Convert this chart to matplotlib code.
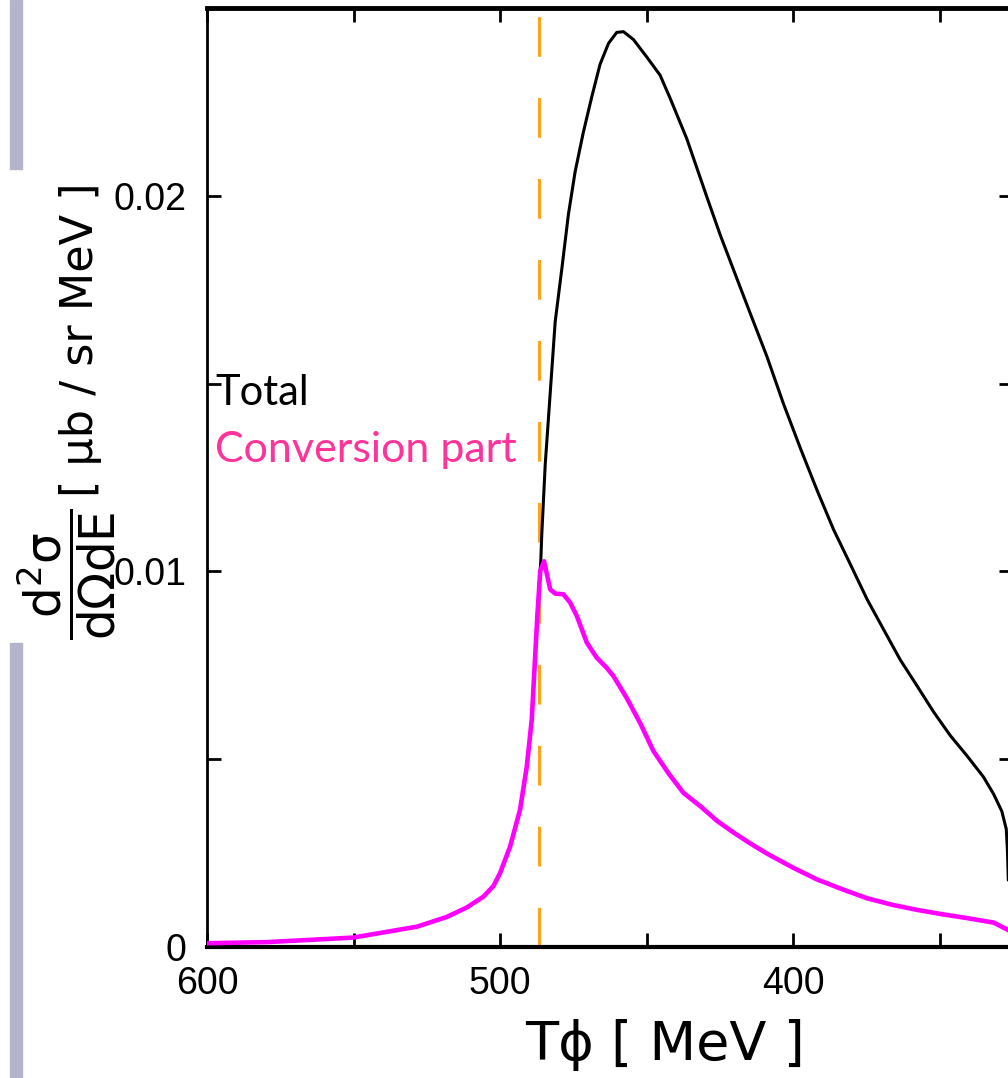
import numpy as np
import matplotlib
matplotlib.use("Agg")
import matplotlib.pyplot as plt
from matplotlib.ticker import MultipleLocator, FixedLocator
from matplotlib.patches import Rectangle

# kinetic energy of the phi [MeV] and cross sections [ub / sr MeV]
t_conv = [600.0, 579.5, 550.2, 528.4, 518.2, 511.4, 505.7, 502.3, 500.0, 496.6,
          493.2, 490.9, 489.2, 488.2, 487.3, 486.3, 485.0, 482.9, 481.2, 478.4,
          476.1, 473.8, 470.4, 467.0, 463.6, 461.3, 456.8, 452.2, 447.7, 442.5,
          437.4, 431.7, 426.0, 420.4, 414.7, 409.0, 400.0, 391.9, 383.0, 374.9,
          366.0, 357.8, 349.0, 340.7, 331.6, 326.6]
v_conv = [0.0001, 0.00013, 0.00025, 0.00054, 0.0008, 0.00105, 0.00134, 0.00162, 0.00197, 0.00267,
          0.00365, 0.0048, 0.00605, 0.0075, 0.0088, 0.01001, 0.01027, 0.00952, 0.00941, 0.00939,
          0.00917, 0.00881, 0.0081, 0.0077, 0.00743, 0.00721, 0.00663, 0.00596, 0.00522, 0.00462,
          0.0041, 0.00375, 0.00336, 0.00305, 0.00276, 0.00249, 0.00211, 0.0018, 0.00153, 0.0013,
          0.00112, 0.00099, 0.00087, 0.00077, 0.00065, 0.00045]

t_total = [600.0, 579.5, 550.2, 528.4, 518.2, 511.4, 505.7, 502.3, 500.0, 496.6,
           493.2, 490.9, 489.2, 488.2, 487.3, 486.6, 486.1, 485.8, 484.6, 482.9,
           481.2, 478.9, 476.7, 474.4, 471.6, 468.7, 465.9, 463.0, 460.2, 457.9,
           454.5, 449.9, 445.4, 442.0, 436.3, 429.5, 424.9, 420.4, 414.7, 409.0,
           403.3, 397.4, 391.8, 386.2, 380.5, 374.8, 369.2, 363.5, 357.8, 352.1,
           346.4, 340.8, 335.1, 331.6, 328.8, 327.3, 326.9, 326.6]
v_total = [0.0001, 0.00013, 0.00025, 0.00054, 0.0008, 0.00105, 0.00134, 0.00162, 0.00197, 0.00267,
           0.00365, 0.0048, 0.00605, 0.0075, 0.0088, 0.0097, 0.0103, 0.01095, 0.01285, 0.01475,
           0.01665, 0.01808, 0.0195, 0.02064, 0.02169, 0.02264, 0.0235, 0.02406, 0.02435, 0.02437,
           0.02416, 0.02369, 0.02321, 0.0226, 0.02152, 0.01998, 0.01896, 0.01804, 0.01688, 0.01573,
           0.01446, 0.01325, 0.01215, 0.01111, 0.01019, 0.00926, 0.00846, 0.00765, 0.00696, 0.00626,
           0.00563, 0.0051, 0.00453, 0.00407, 0.00361, 0.00314, 0.00257, 0.00178]

T_THRESHOLD = 486.6

x_ticks = [600, 500, 400]
y_ticks = [0, 0.01, 0.02]
y_tick_labels = ["0", "0.01", "0.02"]

fig = plt.figure(figsize=(10.08, 10.78), dpi=100)
ax = fig.add_axes([207 / 1008, 1 - 947 / 1078, (1013 - 207) / 1008, (947 - 8) / 1078])

ax.plot(t_total, v_total, color="black", lw=2.2, solid_joinstyle="round",
        solid_capstyle="round", zorder=3)
ax.plot(t_conv, v_conv, color="#ff00ff", lw=3.3, solid_joinstyle="round", zorder=4)
ax.axvline(T_THRESHOLD, color="#ffa31a", lw=2.2, dashes=(13, 13.5), zorder=2)

ax.set_xlim(600, 325)
ax.set_ylim(0, 0.025)

ax.xaxis.set_major_locator(FixedLocator(x_ticks))
ax.xaxis.set_minor_locator(MultipleLocator(50))
ax.yaxis.set_major_locator(FixedLocator(y_ticks))
ax.yaxis.set_minor_locator(MultipleLocator(0.005))
ax.set_yticklabels(y_tick_labels)
ax.tick_params(which="both", direction="in", top=True, right=True, length=10, width=2,
               labelsize=27, pad=14)
ax.tick_params(axis="y", pad=15)
for lab in ax.get_xticklabels() + ax.get_yticklabels():
    lab.set_family(["Liberation Sans", "DejaVu Sans"])

ax.spines["top"].set_linewidth(3.5)
ax.spines["bottom"].set_linewidth(3.0)
ax.spines["left"].set_linewidth(2.0)
ax.spines["right"].set_linewidth(2.0)

fig.text(665 / 1008, 1 - 1045 / 1078, "Tϕ [ MeV ]", fontsize=39, family="DejaVu Sans",
         ha="center", va="center")

# y label: unit text plus the differential fraction
plt.rcParams["mathtext.fontset"] = "dejavusans"
fig.text(81 / 1008, 1 - 340 / 1078, "[ μb / sr MeV ]", rotation=90,
         ha="center", va="center", fontsize=32, family="DejaVu Sans")
fig.text(67 / 1008, 1 - 574 / 1078,
         r"$\dfrac{\mathrm{d}^2\mathrm{σ}}{\mathrm{d}\Omega\mathrm{dE}}$",
         rotation=90, ha="center", va="center", fontsize=35, family="DejaVu Sans")

ax.text(215 / 1008, 1 - 405 / 1078, "Total", transform=fig.transFigure,
        fontsize=30, family=["Lato", "DejaVu Sans"], color="black", va="baseline")
ax.text(215 / 1008, 1 - 462 / 1078, "Conversion part", transform=fig.transFigure,
        fontsize=31, family=["Lato", "DejaVu Sans"], color="#ff3399", va="baseline")

# slide margin bars on the left
for y0, y1 in [(0, 169), (643, 1078)]:
    for x0, x1 in [(10, 12), (13, 22)]:
        fig.patches.append(Rectangle((x0 / 1008, 1 - y1 / 1078), (x1 - x0) / 1008, (y1 - y0) / 1078,
                                     transform=fig.transFigure, color="#b4b4cc", zorder=0))

fig.savefig("out.png", dpi=100)
